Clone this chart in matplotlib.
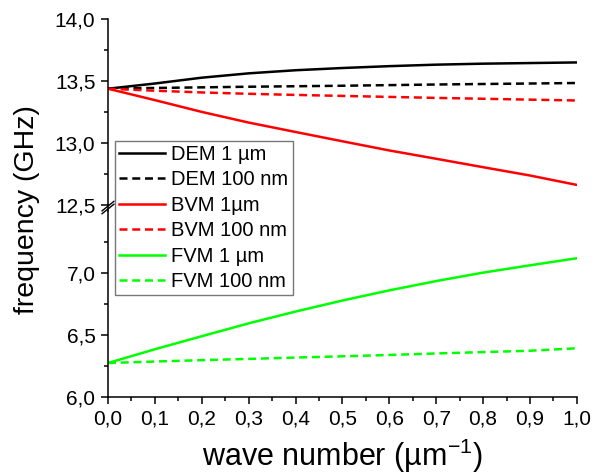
import numpy as np
import matplotlib.pyplot as plt
from matplotlib.ticker import MultipleLocator, FuncFormatter

plt.rcParams['font.family'] = ['Liberation Sans', 'DejaVu Sans']

# wave number (um^-1)
k = [0.0, 0.1, 0.2, 0.3, 0.4, 0.5, 0.6, 0.7, 0.8, 0.9, 1.0]

# frequencies (GHz)
dem_1um = [13.438, 13.48, 13.527, 13.562, 13.587, 13.605, 13.62, 13.632, 13.64, 13.645, 13.65]
dem_100nm = [13.438, 13.444, 13.449, 13.454, 13.458, 13.462, 13.467, 13.472, 13.476, 13.480, 13.484]
bvm_1um = [13.438, 13.346, 13.251, 13.165, 13.089, 13.014, 12.94, 12.873, 12.805, 12.738, 12.662]
bvm_100nm = [13.438, 13.422, 13.408, 13.397, 13.388, 13.38, 13.372, 13.364, 13.357, 13.35, 13.343]
fvm_1um = [6.274, 6.385, 6.49, 6.594, 6.689, 6.778, 6.86, 6.935, 7.003, 7.062, 7.119]
fvm_100nm = [6.274, 6.286, 6.297, 6.307, 6.318, 6.328, 6.339, 6.351, 6.362, 6.373, 6.393]

fig = plt.figure(figsize=(5.94, 4.76), dpi=100)
ax_top = fig.add_axes([0.1818, 0.5693, 0.7894, 0.3907])
ax_bot = fig.add_axes([0.1818, 0.166, 0.7894, 0.3907], sharex=ax_top)

dash = (0, (3.2, 1.9))
lw = 1.8
ax_top.plot(k, dem_1um, color='black', lw=lw, label='DEM 1 µm')
ax_top.plot(k, dem_100nm, color='black', lw=lw, ls=dash, label='DEM 100 nm')
ax_top.plot(k, bvm_1um, color='#ff0000', lw=lw, label='BVM 1µm')
ax_top.plot(k, bvm_100nm, color='#ff0000', lw=lw, ls=dash, label='BVM 100 nm')
ax_bot.plot(k, fvm_1um, color='#00ff00', lw=lw, label='FVM 1 µm')
ax_bot.plot(k, fvm_100nm, color='#00ff00', lw=lw, ls=dash, label='FVM 100 nm')

ax_top.set_ylim(12.5, 14.0)
ax_bot.set_ylim(6.0, 7.5)
ax_bot.set_xlim(0, 1.0)

comma = FuncFormatter(lambda v, p: ('%.1f' % v).replace('.', ','))

for ax in (ax_top, ax_bot):
    ax.spines['top'].set_visible(False)
    ax.spines['right'].set_visible(False)
    ax.spines['left'].set_linewidth(1.1)
    ax.spines['bottom'].set_linewidth(1.1)
    ax.yaxis.set_major_locator(MultipleLocator(0.5))
    ax.yaxis.set_minor_locator(MultipleLocator(0.25))
    ax.yaxis.set_major_formatter(comma)
    ax.tick_params(axis='both', which='major', direction='out', length=5, width=1.1,
                   labelsize=15, pad=4)
    ax.tick_params(axis='both', which='minor', direction='out', length=3, width=1.1)

ax_top.spines['bottom'].set_visible(False)
ax_top.tick_params(axis='x', which='both', bottom=False, labelbottom=False)
ax_bot.set_yticks([6.0, 6.5, 7.0])
ax_bot.set_yticks([6.25, 6.75, 7.25], minor=True)

ax_bot.xaxis.set_major_locator(MultipleLocator(0.1))
ax_bot.xaxis.set_minor_locator(MultipleLocator(0.05))
ax_bot.xaxis.set_major_formatter(comma)

# fill the gap between the two halves with the spine, plus break marks
fig.add_artist(plt.Line2D([0.1818, 0.1818], [0.5567, 0.5693], color='black', lw=1.1))
for yb in (0.5610, 0.5670):
    fig.add_artist(plt.Line2D([0.1818 - 0.010, 0.1818 + 0.010], [yb - 0.010, yb + 0.010],
                              color='black', lw=1.0))

ax_bot.set_xlabel('wave number (µm$^{\\mathregular{-1}}$)', fontsize=22, labelpad=6)
fig.text(0.045, 0.56, 'frequency (GHz)', rotation=90, fontsize=20.5, va='center', ha='center')

h1, l1 = ax_top.get_legend_handles_labels()
h2, l2 = ax_bot.get_legend_handles_labels()
leg = fig.legend(h1 + h2, l1 + l2, loc='upper left', bbox_to_anchor=(0.1936, 0.7038),
                 fontsize=14.5, frameon=True, fancybox=False, edgecolor='#555555',
                 handlelength=2.3, handletextpad=0.3, labelspacing=0.32,
                 borderpad=0.2, borderaxespad=0)
leg.get_frame().set_linewidth(1.0)

fig.savefig('out.png', dpi=100)
